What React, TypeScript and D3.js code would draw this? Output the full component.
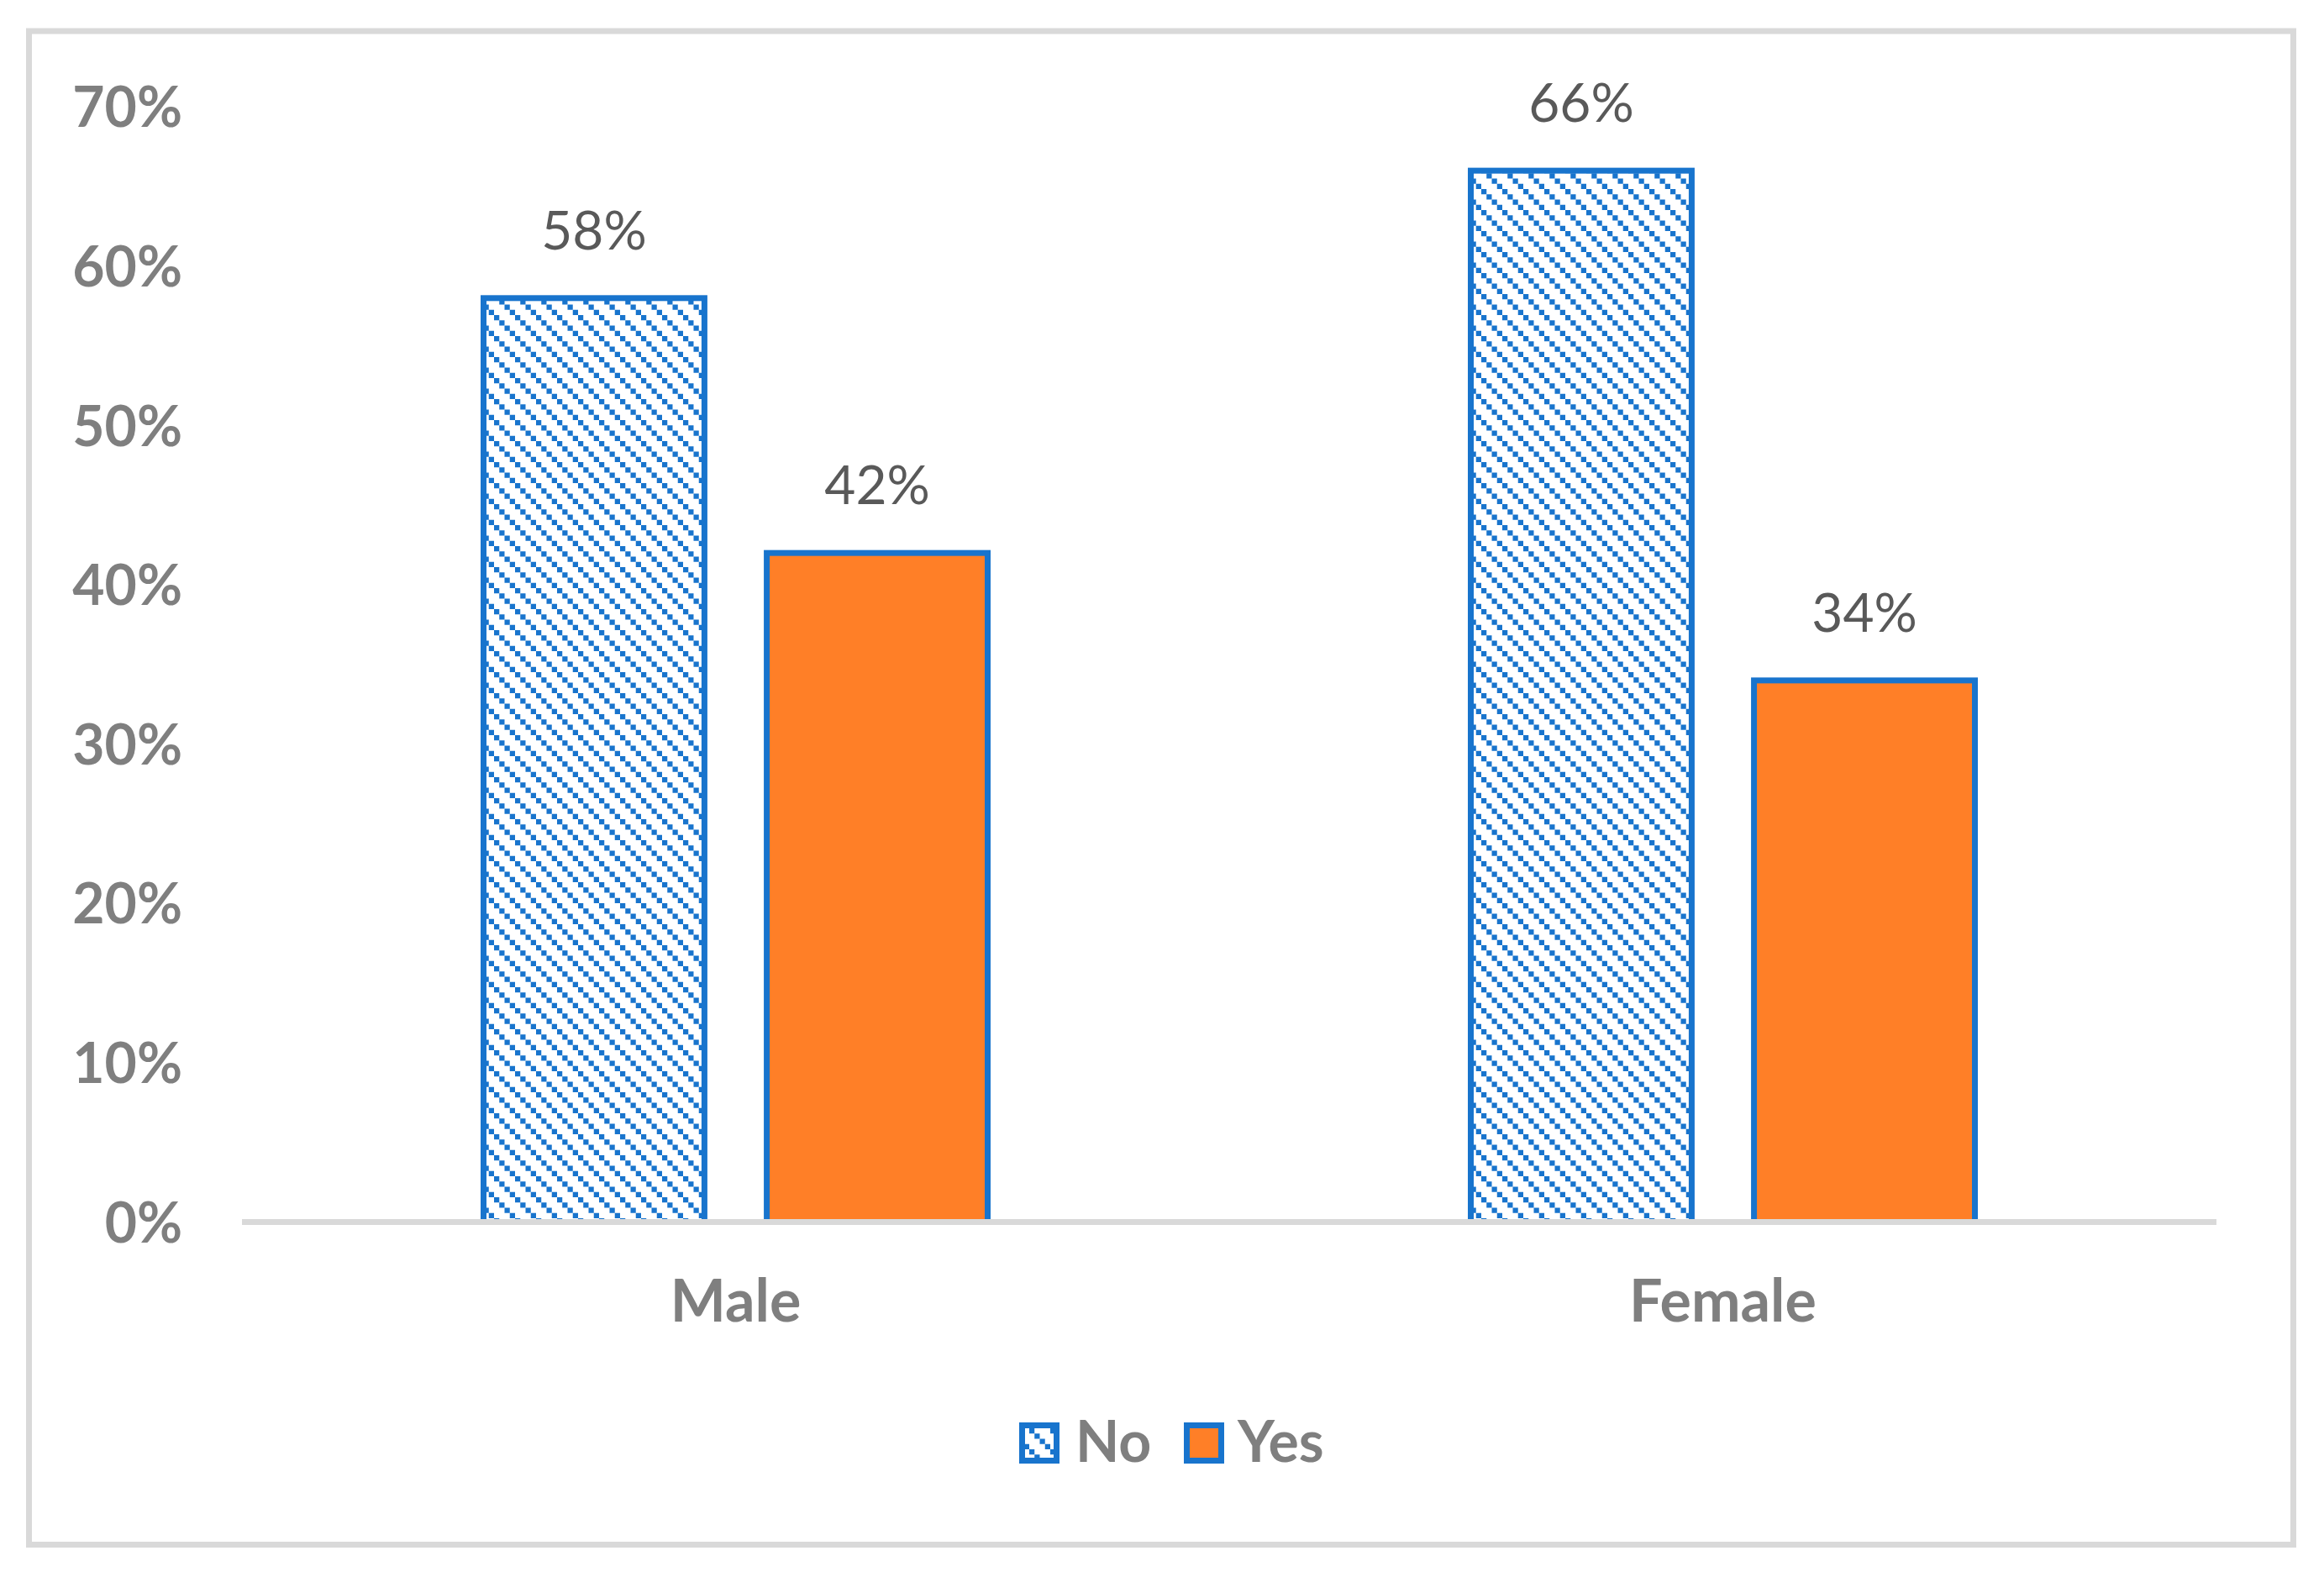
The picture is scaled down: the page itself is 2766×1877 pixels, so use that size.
import React from "react";
import * as d3 from "d3";

const categories = ["Male", "Female"];
const seriesNames = ["No", "Yes"];
const noValues = [0.58, 0.66];
const yesValues = [0.42, 0.34];
const yTicks = [0, 0.1, 0.2, 0.3, 0.4, 0.5, 0.6, 0.7];

const W = 2766;
const H = 1877;
const BLUE = "#1874CD";
const ORANGE = "#FF7F27";
const FONT = "Lato, 'Open Sans', sans-serif";

export default function App() {
  const x0 = d3.scaleBand<string>().domain(categories).range([288, 2638]).padding(0);
  const bw = x0.bandwidth();
  const groupW = 600;
  const x1 = d3
    .scaleBand<string>()
    .domain(seriesNames)
    .range([(bw - groupW) / 2, (bw + groupW) / 2])
    .paddingInner(0.22)
    .paddingOuter(0);
  const y = d3.scaleLinear().domain([0, 0.7]).range([1454.5, 127.3]);
  const fmt = d3.format(".0%");

  const rows = categories.map((c, i) => ({ c, vals: [noValues[i], yesValues[i]] }));

  return (
    <svg
      width={W}
      height={H}
      style={{ position: "absolute", left: 0, top: 0, background: "#fff" }}
    >
      <defs>
        <pattern id="diag" patternUnits="userSpaceOnUse" width={25} height={25}>
          <rect width={25} height={25} fill="#fff" />
          {[0, 1, 2, 3].map((k) => (
            <rect key={k} x={k * 6.25} y={k * 6.25} width={6.25} height={6.25} fill={BLUE} />
          ))}
        </pattern>
      </defs>
      <rect x={0} y={0} width={W} height={H} fill="#fff" />
      <rect
        x={34.5}
        y={37}
        width={2729.5 - 34.5}
        height={1838.5 - 37}
        fill="#fff"
        stroke="#D9D9D9"
        strokeWidth={7}
      />
      {yTicks.map((t) => (
        <text
          key={t}
          x={217}
          y={y(t) + 24}
          textAnchor="end"
          fontFamily={FONT}
          fontWeight="bold"
          fontSize={66}
          fill="#7F7F7F"
        >
          {fmt(t)}
        </text>
      ))}
      {rows.map((r) => (
        <g key={r.c} transform={`translate(${x0(r.c)},0)`}>
          {r.vals.map((v, j) => {
            const s = seriesNames[j];
            const bx = x1(s)!;
            const w = x1.bandwidth();
            return (
              <g key={s}>
                <rect
                  x={bx}
                  y={y(v)}
                  width={w}
                  height={y(0) - y(v)}
                  fill={j === 0 ? "url(#diag)" : ORANGE}
                  stroke={BLUE}
                  strokeWidth={7}
                />
                <text
                  x={bx + w / 2}
                  y={y(v) - 58}
                  textAnchor="middle"
                  fontFamily={FONT}
                  fontSize={64}
                  fill="#595959"
                >
                  {fmt(v)}
                </text>
              </g>
            );
          })}
          <text
            x={bw / 2}
            y={1573}
            textAnchor="middle"
            fontFamily={FONT}
            fontWeight="bold"
            fontSize={70}
            fill="#7F7F7F"
          >
            {r.c}
          </text>
        </g>
      ))}
      <line x1={288} x2={2638} y1={y(0)} y2={y(0)} stroke="#D9D9D9" strokeWidth={7} />
      {seriesNames.map((s, i) => {
        const bx = i === 0 ? 1216.5 : 1412.5;
        const tx = i === 0 ? 1280 : 1473;
        return (
          <g key={s}>
            <rect
              x={bx}
              y={1696.5}
              width={41}
              height={42}
              fill={i === 0 ? "url(#diag)" : ORANGE}
              stroke={BLUE}
              strokeWidth={7}
            />
            <text x={tx} y={1740} fontFamily={FONT} fontWeight="bold" fontSize={68} fill="#7F7F7F">
              {s}
            </text>
          </g>
        );
      })}
    </svg>
  );
}
